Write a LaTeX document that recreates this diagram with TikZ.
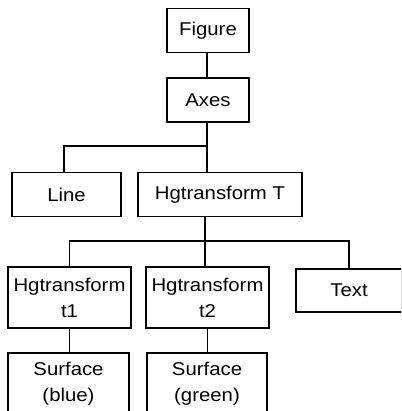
\documentclass[tikz,border=0pt]{standalone}
\usepackage{fontspec}
\newfontfamily\boxfont{Liberation Sans}[FakeStretch=1.1]
\usepackage{tikz}
\usetikzlibrary{positioning,calc}

\begin{document}
\begin{tikzpicture}[
    x=1pt, y=-1pt,
    font=\boxfont\fontsize{18.5}{26}\selectfont,
    obj/.style={draw, line width=1.4pt, minimum height=44pt, inner sep=0pt, align=center},
    tall/.style={obj, minimum height=61pt},
    link/.style={line width=1.4pt}
]
\useasboundingbox (0,0) rectangle (401,411);
\clip (0,0) rectangle (401,411);

% top of the tree
\node[obj, minimum width=82pt] (fig) at (208,30.5) {Figure};
\node[obj, minimum width=82pt] (axes) at (208,100) {Axes};

% children of the axes
\node[obj, minimum width=109pt] (line) at (66.5,194.5) {Line};
\node[obj, minimum width=164pt] (hgT) at (220,194.5) {Hgtransform T};

% children of the transform
\node[tall, minimum width=123pt] (t1) at (69.5,297.5) {Hgtransform\\t1};
\node[tall, minimum width=123pt] (t2) at (207.5,297.5) {Hgtransform\\t2};
\node[obj, minimum width=106pt, minimum height=43pt] (text) at (349,290.5) {Text};

% surfaces (run off the bottom)
\node[tall, minimum width=121pt] (blue) at (68.5,383.5) {Surface\\(blue)};
\node[tall, minimum width=120pt] (green) at (207,383.5) {Surface\\(green)};

% bus points
\coordinate (bus1) at (207,146);
\coordinate (bus2) at (205,241);

% connectors
\draw[link] (fig.south -| bus1) -- (axes.north -| bus1);
\draw[link] (axes.south -| bus1) -- (hgT.north -| bus1);
\draw[link] ([xshift=-2.5pt]line.north) |- (bus1);
\draw[link] (hgT.south -| bus2) -- (t2.north -| bus2);
\draw[link] (t1.north) |- (bus2) -| (text.north);
\draw[link] (t1.south) -- (t1.south |- blue.north);
\draw[link] (t2.south) -- (t2.south |- green.north);

\end{tikzpicture}
\end{document}
